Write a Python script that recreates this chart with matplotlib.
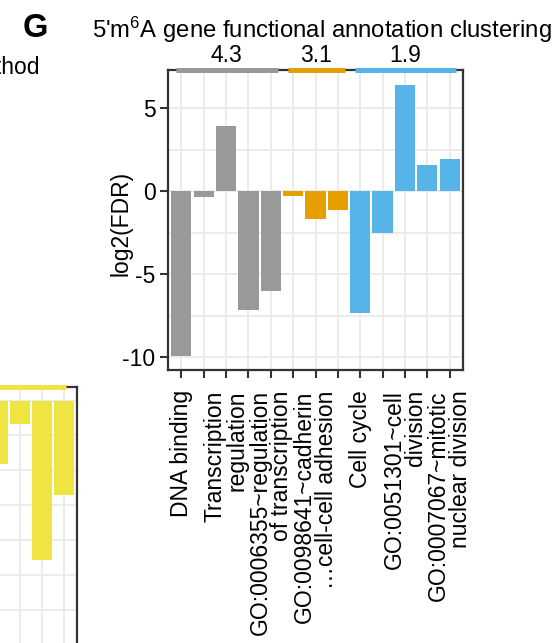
import matplotlib
matplotlib.use("Agg")
import matplotlib.pyplot as plt
import numpy as np

plt.rcParams["font.family"] = ["Liberation Sans", "DejaVu Sans"]
plt.rcParams["mathtext.fontset"] = "custom"
plt.rcParams["mathtext.rm"] = "Liberation Sans"
plt.rcParams["mathtext.default"] = "regular"

# GO / keyword terms, one bar each, grouped into three annotation clusters
terms = ["DNA binding", "", "Transcription\nregulation", "",
         "GO:0006355~regulation\nof transcription", "",
         "GO:0098641~cadherin\n\u2026cell-cell adhesion", "",
         "Cell cycle", "", "GO:0051301~cell\ndivision", "",
         "GO:0007067~mitotic\nnuclear division"]
log2_fdr = [-9.95, -0.34, 3.92, -7.17, -6.02,
            -0.28, -1.69, -1.14,
            -7.33, -2.51, 6.39, 1.57, 1.91]
cluster_of = [0, 0, 0, 0, 0, 1, 1, 1, 2, 2, 2, 2, 2]
cluster_scores = ["4.3", "3.1", "1.9"]
cluster_colors = ["#999999", "#E69F00", "#56B4E9"]

# neighbouring panel (only its right edge falls inside the figure)
side_values = [-4.58, -1.67, -11.46, -6.8]
side_color = "#F0E442"

W, H = 555, 643
fig = plt.figure(figsize=(W / 100, H / 100), dpi=100)


def box(x0, y0, x1, y1):
    # pixel box (top-left origin) -> figure fraction rect
    return [x0 / W, 1 - y1 / H, (x1 - x0) / W, (y1 - y0) / H]


DARK = "#333333"
GRID = "#EBEBEB"
FS = 16.5


def style(ax):
    ax.set_axisbelow(True)
    for s in ax.spines.values():
        s.set_color(DARK)
        s.set_linewidth(1.6)
    ax.tick_params(colors=DARK, width=1.5, length=5.5, labelsize=FS,
                   labelcolor="black")
    ax.grid(True, which="both", color=GRID, lw=1.4)


# ---- main panel ----
ax = fig.add_axes(box(168, 70, 463, 370))
style(ax)
x = np.arange(1, len(log2_fdr) + 1)
colors = [cluster_colors[c] for c in cluster_of]
ax.bar(x, log2_fdr, width=0.9, color=colors, zorder=2)
ax.set_xlim(0.4, len(x) + 0.6)
ax.set_ylim(-10.78, 7.29)
ax.set_yticks([5, 0, -5, -10])
ax.set_yticklabels(["5", "0", "-5", "-10"])
ax.set_yticks([2.5, -2.5, -7.5], minor=True)
ax.tick_params(axis="y", which="minor", length=0)
ax.tick_params(axis="y", which="major", pad=3.5)
ax.tick_params(axis="x", which="major", pad=9)
ax.set_xticks(x)
ax.set_xticklabels(terms, rotation=90, ha="center", va="top",
                   multialignment="right", linespacing=0.92)
ax.set_ylabel("log2(FDR)", fontsize=FS)
ax.yaxis.set_label_coords(-0.122, 0.487)

# cluster bars along the top border with their enrichment scores
for k, (score, col) in enumerate(zip(cluster_scores, cluster_colors)):
    idx = [i for i, c in enumerate(cluster_of) if c == k]
    a, b = x[idx[0]] - 0.25, x[idx[-1]] + 0.3
    ax.plot([a, b], [7.29, 7.29], color=col, lw=3.6, solid_capstyle="butt",
            clip_on=False, zorder=5)
    ax.text((a + b) / 2, 7.77, score, ha="center", va="baseline", fontsize=FS)

fig.text(322 / W, 1 - 38 / H,
         "5'm$^6$A gene functional annotation clustering",
         ha="center", va="baseline", fontsize=17.2)
fig.text(35 / W, 1 - 37 / H, "G", ha="center", va="baseline",
         fontsize=23.5, fontweight="bold")
fig.text(40 / W, 1 - 74 / H, "method", ha="right", va="baseline",
         fontsize=FS)

# ---- neighbouring panel, cut off at the figure edge ----
ax2 = fig.add_axes(box(-15.4, 387, 77, 720))
style(ax2)
xs = np.arange(1, len(side_values) + 1)
ax2.bar(xs, side_values, width=0.9, color=side_color, zorder=2)
ax2.set_xlim(0.4, len(xs) + 0.6)
ax2.set_ylim(-22.9, 0.97)
ax2.set_xticks(xs)
ax2.set_yticks(np.arange(0, -25, -2.5))
ax2.tick_params(length=0, labelleft=False, labelbottom=False)
ax2.plot([-1, xs[-1] + 0.1], [0.97, 0.97], color=side_color, lw=3.6,
         solid_capstyle="butt", clip_on=False, zorder=5)

fig.savefig("out.png", dpi=100)
